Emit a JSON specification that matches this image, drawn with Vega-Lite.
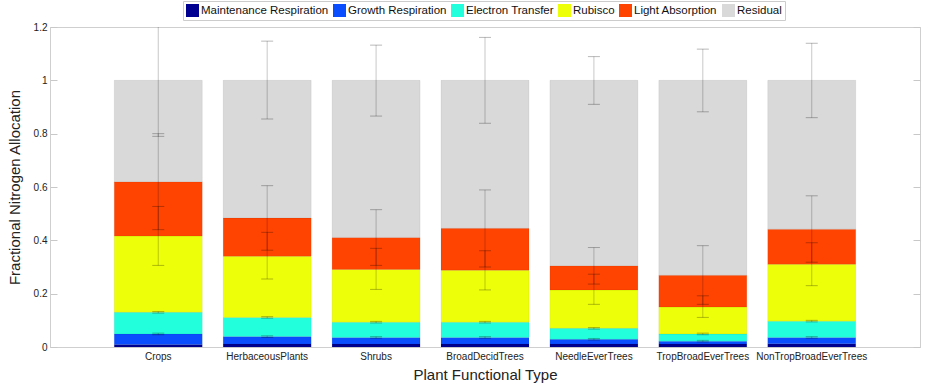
{
  "$schema": "https://vega.github.io/schema/vega-lite/v6.json",
  "width": 870,
  "height": 320,
  "autosize": "none",
  "padding": {"left": 50, "top": 27, "right": 7, "bottom": 44},
  "background": "white",
  "config": {
    "font": "Liberation Sans",
    "view": {"stroke": "#cfcfcf", "strokeWidth": 1},
    "axis": {"labelFont": "Liberation Sans", "titleFont": "Liberation Sans", "labelColor": "#222", "titleColor": "#222", "domainColor": "#cfcfcf", "tickColor": "#c8c8c8", "grid": false, "titleFontWeight": "normal"}
  },
  "resolve": {"axis": {"y": "independent"}},
  "datasets": {
    "bars": [
      {"pft": "Crops", "comp": "Maintenance Respiration", "ord": 1, "amt": 0.009},
      {"pft": "Crops", "comp": "Growth Respiration", "ord": 2, "amt": 0.040},
      {"pft": "Crops", "comp": "Electron Transfer", "ord": 3, "amt": 0.081},
      {"pft": "Crops", "comp": "Rubisco", "ord": 4, "amt": 0.286},
      {"pft": "Crops", "comp": "Light Absorption", "ord": 5, "amt": 0.204},
      {"pft": "Crops", "comp": "Residual", "ord": 6, "amt": 0.380},
      {"pft": "HerbaceousPlants", "comp": "Maintenance Respiration", "ord": 1, "amt": 0.011},
      {"pft": "HerbaceousPlants", "comp": "Growth Respiration", "ord": 2, "amt": 0.028},
      {"pft": "HerbaceousPlants", "comp": "Electron Transfer", "ord": 3, "amt": 0.072},
      {"pft": "HerbaceousPlants", "comp": "Rubisco", "ord": 4, "amt": 0.229},
      {"pft": "HerbaceousPlants", "comp": "Light Absorption", "ord": 5, "amt": 0.144},
      {"pft": "HerbaceousPlants", "comp": "Residual", "ord": 6, "amt": 0.516},
      {"pft": "Shrubs", "comp": "Maintenance Respiration", "ord": 1, "amt": 0.011},
      {"pft": "Shrubs", "comp": "Growth Respiration", "ord": 2, "amt": 0.025},
      {"pft": "Shrubs", "comp": "Electron Transfer", "ord": 3, "amt": 0.057},
      {"pft": "Shrubs", "comp": "Rubisco", "ord": 4, "amt": 0.198},
      {"pft": "Shrubs", "comp": "Light Absorption", "ord": 5, "amt": 0.120},
      {"pft": "Shrubs", "comp": "Residual", "ord": 6, "amt": 0.589},
      {"pft": "BroadDecidTrees", "comp": "Maintenance Respiration", "ord": 1, "amt": 0.011},
      {"pft": "BroadDecidTrees", "comp": "Growth Respiration", "ord": 2, "amt": 0.025},
      {"pft": "BroadDecidTrees", "comp": "Electron Transfer", "ord": 3, "amt": 0.057},
      {"pft": "BroadDecidTrees", "comp": "Rubisco", "ord": 4, "amt": 0.195},
      {"pft": "BroadDecidTrees", "comp": "Light Absorption", "ord": 5, "amt": 0.157},
      {"pft": "BroadDecidTrees", "comp": "Residual", "ord": 6, "amt": 0.555},
      {"pft": "NeedleEverTrees", "comp": "Maintenance Respiration", "ord": 1, "amt": 0.011},
      {"pft": "NeedleEverTrees", "comp": "Growth Respiration", "ord": 2, "amt": 0.018},
      {"pft": "NeedleEverTrees", "comp": "Electron Transfer", "ord": 3, "amt": 0.041},
      {"pft": "NeedleEverTrees", "comp": "Rubisco", "ord": 4, "amt": 0.144},
      {"pft": "NeedleEverTrees", "comp": "Light Absorption", "ord": 5, "amt": 0.091},
      {"pft": "NeedleEverTrees", "comp": "Residual", "ord": 6, "amt": 0.695},
      {"pft": "TropBroadEverTrees", "comp": "Maintenance Respiration", "ord": 1, "amt": 0.011},
      {"pft": "TropBroadEverTrees", "comp": "Growth Respiration", "ord": 2, "amt": 0.011},
      {"pft": "TropBroadEverTrees", "comp": "Electron Transfer", "ord": 3, "amt": 0.027},
      {"pft": "TropBroadEverTrees", "comp": "Rubisco", "ord": 4, "amt": 0.101},
      {"pft": "TropBroadEverTrees", "comp": "Light Absorption", "ord": 5, "amt": 0.119},
      {"pft": "TropBroadEverTrees", "comp": "Residual", "ord": 6, "amt": 0.731},
      {"pft": "NonTropBroadEverTrees", "comp": "Maintenance Respiration", "ord": 1, "amt": 0.012},
      {"pft": "NonTropBroadEverTrees", "comp": "Growth Respiration", "ord": 2, "amt": 0.024},
      {"pft": "NonTropBroadEverTrees", "comp": "Electron Transfer", "ord": 3, "amt": 0.061},
      {"pft": "NonTropBroadEverTrees", "comp": "Rubisco", "ord": 4, "amt": 0.213},
      {"pft": "NonTropBroadEverTrees", "comp": "Light Absorption", "ord": 5, "amt": 0.132},
      {"pft": "NonTropBroadEverTrees", "comp": "Residual", "ord": 6, "amt": 0.558}
    ],
    "errs": [
      {"pft": "Crops", "comp": "Residual", "lo": 0.79, "hi": 1.21},
      {"pft": "Crops", "comp": "Light Absorption", "lo": 0.44, "hi": 0.80},
      {"pft": "Crops", "comp": "Rubisco", "lo": 0.306, "hi": 0.527},
      {"pft": "Crops", "comp": "Electron Transfer", "lo": 0.127, "hi": 0.133},
      {"pft": "Crops", "comp": "Growth Respiration", "lo": 0.046, "hi": 0.052},
      {"pft": "HerbaceousPlants", "comp": "Residual", "lo": 0.855, "hi": 1.147},
      {"pft": "HerbaceousPlants", "comp": "Light Absorption", "lo": 0.363, "hi": 0.605},
      {"pft": "HerbaceousPlants", "comp": "Rubisco", "lo": 0.255, "hi": 0.43},
      {"pft": "HerbaceousPlants", "comp": "Electron Transfer", "lo": 0.108, "hi": 0.114},
      {"pft": "HerbaceousPlants", "comp": "Growth Respiration", "lo": 0.036, "hi": 0.042},
      {"pft": "Shrubs", "comp": "Residual", "lo": 0.866, "hi": 1.132},
      {"pft": "Shrubs", "comp": "Light Absorption", "lo": 0.306, "hi": 0.515},
      {"pft": "Shrubs", "comp": "Rubisco", "lo": 0.216, "hi": 0.37},
      {"pft": "Shrubs", "comp": "Electron Transfer", "lo": 0.090, "hi": 0.096},
      {"pft": "Shrubs", "comp": "Growth Respiration", "lo": 0.033, "hi": 0.039},
      {"pft": "BroadDecidTrees", "comp": "Residual", "lo": 0.839, "hi": 1.161},
      {"pft": "BroadDecidTrees", "comp": "Light Absorption", "lo": 0.30, "hi": 0.589},
      {"pft": "BroadDecidTrees", "comp": "Rubisco", "lo": 0.214, "hi": 0.361},
      {"pft": "BroadDecidTrees", "comp": "Electron Transfer", "lo": 0.090, "hi": 0.096},
      {"pft": "BroadDecidTrees", "comp": "Growth Respiration", "lo": 0.033, "hi": 0.039},
      {"pft": "NeedleEverTrees", "comp": "Residual", "lo": 0.91, "hi": 1.089},
      {"pft": "NeedleEverTrees", "comp": "Light Absorption", "lo": 0.236, "hi": 0.373},
      {"pft": "NeedleEverTrees", "comp": "Rubisco", "lo": 0.16, "hi": 0.273},
      {"pft": "NeedleEverTrees", "comp": "Electron Transfer", "lo": 0.067, "hi": 0.073},
      {"pft": "NeedleEverTrees", "comp": "Growth Respiration", "lo": 0.026, "hi": 0.032},
      {"pft": "TropBroadEverTrees", "comp": "Residual", "lo": 0.882, "hi": 1.117},
      {"pft": "TropBroadEverTrees", "comp": "Light Absorption", "lo": 0.16, "hi": 0.38},
      {"pft": "TropBroadEverTrees", "comp": "Rubisco", "lo": 0.111, "hi": 0.192},
      {"pft": "TropBroadEverTrees", "comp": "Electron Transfer", "lo": 0.046, "hi": 0.052},
      {"pft": "TropBroadEverTrees", "comp": "Growth Respiration", "lo": 0.019, "hi": 0.025},
      {"pft": "NonTropBroadEverTrees", "comp": "Residual", "lo": 0.86, "hi": 1.139},
      {"pft": "NonTropBroadEverTrees", "comp": "Light Absorption", "lo": 0.318, "hi": 0.567},
      {"pft": "NonTropBroadEverTrees", "comp": "Rubisco", "lo": 0.23, "hi": 0.391},
      {"pft": "NonTropBroadEverTrees", "comp": "Electron Transfer", "lo": 0.094, "hi": 0.100},
      {"pft": "NonTropBroadEverTrees", "comp": "Growth Respiration", "lo": 0.033, "hi": 0.039}
    ]
  },
  "layer": [
    {
      "data": {"name": "bars"},
      "mark": {"type": "bar", "stroke": "#000", "strokeOpacity": 0.1, "strokeWidth": 0.6},
      "encoding": {
        "x": {
          "field": "pft", "type": "nominal",
          "sort": ["Crops", "HerbaceousPlants", "Shrubs", "BroadDecidTrees", "NeedleEverTrees", "TropBroadEverTrees", "NonTropBroadEverTrees"],
          "scale": {"paddingInner": 0.192, "paddingOuter": 0.59},
          "axis": {"title": "Plant Functional Type", "labelAngle": 0, "labelFontSize": 10, "titleFontSize": 15, "ticks": false, "labelPadding": 4, "titlePadding": 6}
        },
        "y": {
          "field": "amt", "type": "quantitative", "stack": "zero",
          "scale": {"domain": [0, 1.2], "nice": false},
          "axis": {"title": "Fractional Nitrogen Allocation", "values": [0, 0.2, 0.4, 0.6, 0.8, 1, 1.2], "format": "~g", "labelFontSize": 10, "titleFontSize": 15, "tickSize": -7, "labelPadding": 10, "titlePadding": 11}
        },
        "order": {"field": "ord", "type": "quantitative", "sort": "ascending"},
        "color": {
          "field": "comp", "type": "nominal",
          "scale": {
            "domain": ["Maintenance Respiration", "Growth Respiration", "Electron Transfer", "Rubisco", "Light Absorption", "Residual"],
            "range": ["#000090", "#0a4dff", "#22ffdc", "#eeff0a", "#ff4300", "#d9d9d9"]
          },
          "legend": {
            "title": null, "orient": "none", "direction": "horizontal", "columns": 6,
            "legendX": 133, "legendY": -26,
            "symbolType": "square", "symbolSize": 169, "symbolStrokeWidth": 0,
            "labelFontSize": 11.5, "labelFont": "Liberation Sans", "labelColor": "#111", "labelOffset": 2,
            "columnPadding": 4, "padding": 3,
            "strokeColor": "#cccccc", "fillColor": "white"
          }
        }
      }
    },
    {
      "data": {"name": "errs"},
      "mark": {"type": "rule", "color": "#000", "opacity": 0.22, "strokeWidth": 1, "clip": true},
      "encoding": {
        "x": {"field": "pft", "type": "nominal", "sort": ["Crops", "HerbaceousPlants", "Shrubs", "BroadDecidTrees", "NeedleEverTrees", "TropBroadEverTrees", "NonTropBroadEverTrees"]},
        "y": {"field": "lo", "type": "quantitative",
          "axis": {"orient": "right", "title": null, "labels": false, "domain": false, "values": [0, 0.2, 0.4, 0.6, 0.8, 1, 1.2], "tickSize": -7}},
        "y2": {"field": "hi"}
      }
    },
    {
      "data": {"name": "errs"},
      "mark": {"type": "tick", "color": "#000", "opacity": 0.28, "thickness": 1, "size": 12, "clip": true},
      "encoding": {
        "x": {"field": "pft", "type": "nominal", "sort": ["Crops", "HerbaceousPlants", "Shrubs", "BroadDecidTrees", "NeedleEverTrees", "TropBroadEverTrees", "NonTropBroadEverTrees"]},
        "y": {"field": "lo", "type": "quantitative", "axis": null}
      }
    },
    {
      "data": {"name": "errs"},
      "mark": {"type": "tick", "color": "#000", "opacity": 0.28, "thickness": 1, "size": 12, "clip": true},
      "encoding": {
        "x": {"field": "pft", "type": "nominal", "sort": ["Crops", "HerbaceousPlants", "Shrubs", "BroadDecidTrees", "NeedleEverTrees", "TropBroadEverTrees", "NonTropBroadEverTrees"]},
        "y": {"field": "hi", "type": "quantitative", "axis": null}
      }
    }
  ]
}
